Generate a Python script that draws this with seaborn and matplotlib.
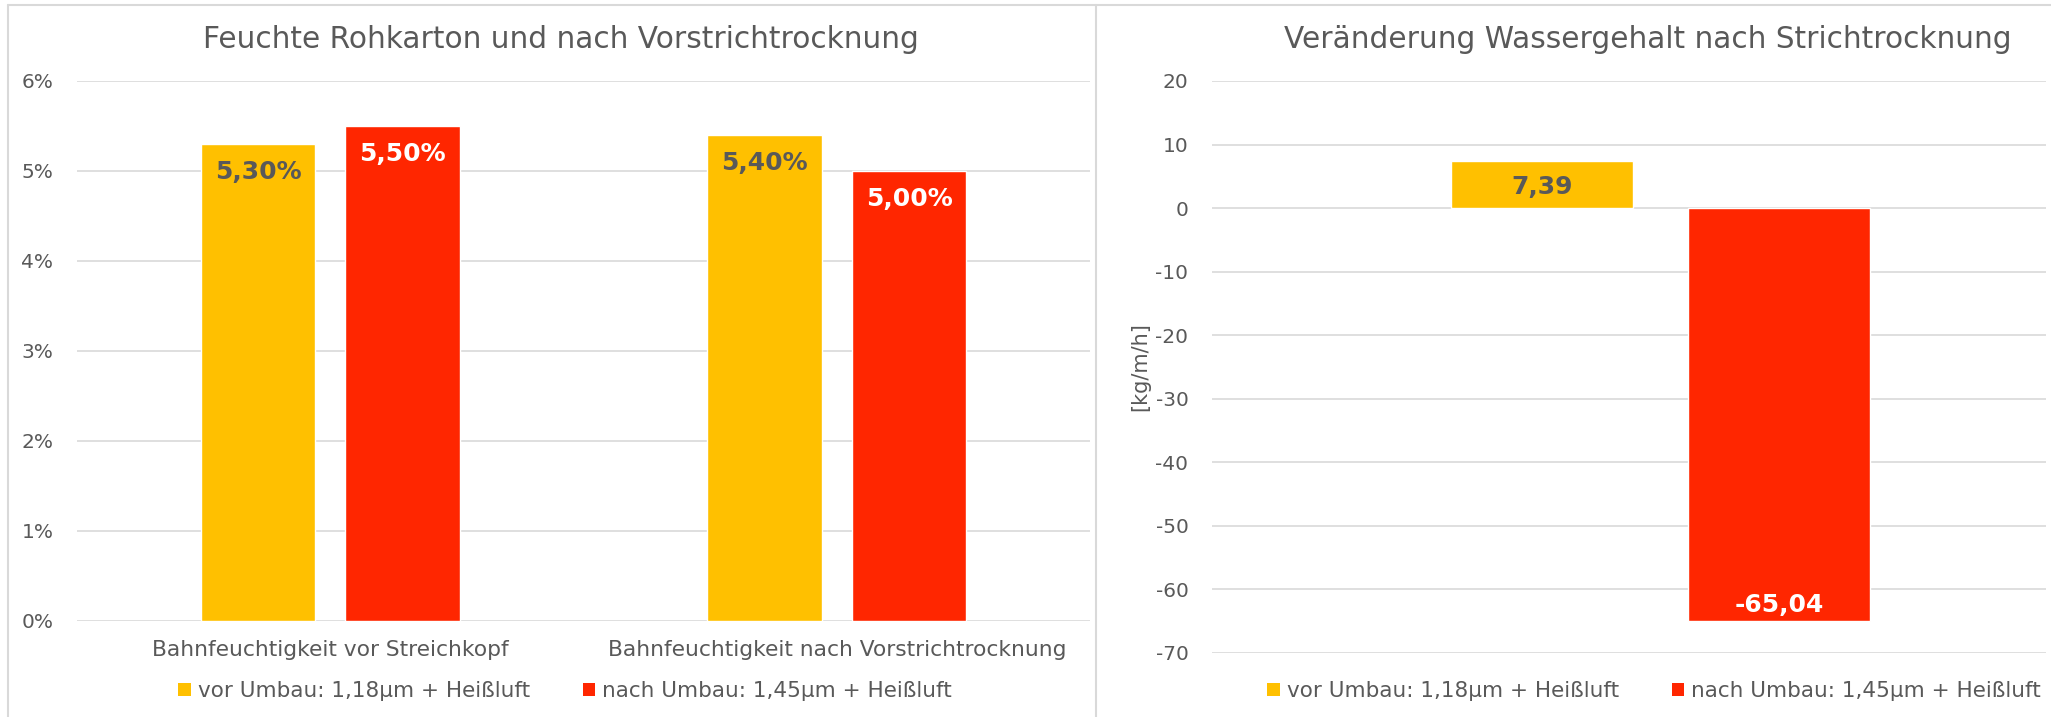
import matplotlib
matplotlib.use("Agg")
import matplotlib.pyplot as plt
import seaborn as sns
import pandas as pd
from matplotlib.lines import Line2D
from matplotlib.patches import Patch

# ---- data ----
series = ["vor Umbau: 1,18µm + Heißluft", "nach Umbau: 1,45µm + Heißluft"]
left_categories = ["Bahnfeuchtigkeit vor Streichkopf", "Bahnfeuchtigkeit nach Vorstrichtrocknung"]
left_vor = [5.30, 5.40]
left_nach = [5.50, 5.00]
right_categories = [""]
right_vor = [7.39]
right_nach = [-65.04]
left_title = "Feuchte Rohkarton und nach Vorstrichtrocknung"
right_title = "Veränderung Wassergehalt nach Strichtrocknung"
right_ylabel = "[kg/m/h]"
left_yticks = [0, 1, 2, 3, 4, 5, 6]
right_yticks = [20, 10, 0, -10, -20, -30, -40, -50, -60, -70]

colors = ["#FFC000", "#FF2600"]
text_grey = "#595959"
label_colors = ["#595959", "white"]

sns.set_theme(style="white")
plt.rcParams["font.family"] = ["DejaVu Sans"]
plt.rcParams["axes.unicode_minus"] = False

W, H = 2051, 717
fig = plt.figure(figsize=(W / 100, H / 100), dpi=100)

def ax_rect(x0, x1, ytop, ybot):
    return [x0 / W, 1 - ybot / H, (x1 - x0) / W, (ybot - ytop) / H]

ax1 = fig.add_axes(ax_rect(77, 1090, 81, 621))
ax2 = fig.add_axes(ax_rect(1212, 2046, 81, 653))

df1 = pd.DataFrame({
    "cat": left_categories * 2,
    "val": left_vor + left_nach,
    "ser": [series[0]] * len(left_categories) + [series[1]] * len(left_categories),
})
df2 = pd.DataFrame({
    "cat": right_categories * 2,
    "val": right_vor + right_nach,
    "ser": [series[0]] * len(right_categories) + [series[1]] * len(right_categories),
})

sns.barplot(data=df1, x="cat", y="val", hue="ser", palette=colors, width=0.571,
            gap=0.21, ax=ax1, legend=False, saturation=1, errorbar=None)
sns.barplot(data=df2, x="cat", y="val", hue="ser", palette=colors, width=0.568,
            gap=0.23, ax=ax2, legend=False, saturation=1, errorbar=None)

def style(ax):
    for s in ax.spines.values():
        s.set_visible(False)
    ax.grid(axis="y", color="#DCDCDC", linewidth=1.3)
    ax.set_axisbelow(True)
    ax.tick_params(axis="both", length=0, colors=text_grey, labelsize=14.5)
    ax.set_xlabel("")
    ax.set_ylabel("")

style(ax1)
style(ax2)

ax1.set_ylim(0, 6)
ax1.set_yticks(left_yticks)
ax1.set_yticklabels([f"{t}%" for t in left_yticks])
ax1.tick_params(axis="y", pad=17)
ax1.tick_params(axis="x", pad=14, labelsize=15.7)
ax1.set_xlim(-0.5, 1.5)

ax2.set_ylim(-70, 20)
ax2.set_yticks(right_yticks)
ax2.set_yticklabels([str(t) for t in right_yticks])
ax2.tick_params(axis="y", pad=17)
ax2.set_xlim(-0.538, 0.462)
ax2.set_ylabel(right_ylabel, color=text_grey, fontsize=15, labelpad=4)

fig.text(561 / W, 1 - 39 / H, left_title, ha="center", va="center", fontsize=21.3, color=text_grey)
fig.text(1648 / W, 1 - 39 / H, right_title, ha="center", va="center", fontsize=21.3, color=text_grey)

def fmt(v, pct):
    s = f"{v:.2f}".replace(".", ",")
    return s + "%" if pct else s

def label_bars(ax, pct, off_pos, off_neg):
    for ci, cont in enumerate(ax.containers):
        for p in cont.patches:
            v = p.get_height()
            x = p.get_x() + p.get_width() / 2
            off = -off_pos if v >= 0 else off_neg
            ax.annotate(fmt(v, pct), (x, v), xytext=(0, off), textcoords="offset pixels",
                        ha="center", va="center", fontsize=18, fontweight="bold",
                        color=label_colors[ci])

label_bars(ax1, True, 28, 16)
label_bars(ax2, False, 26, 16)

handles = [Patch(facecolor=c, edgecolor="none") for c in colors]
for cx in (565 / W, 1654 / W):
    fig.legend(handles, series, loc="center", bbox_to_anchor=(cx, 1 - 691 / H), ncol=2,
               frameon=False, fontsize=15.5, handlelength=0.6, handleheight=0.6,
               handletextpad=0.3, columnspacing=2.45, labelcolor=text_grey)

# panel borders
bc = "#D9D9D9"
fig.add_artist(Line2D([8 / W, 1], [1 - 5 / H, 1 - 5 / H], color=bc, lw=1.5, transform=fig.transFigure))
fig.add_artist(Line2D([8 / W, 8 / W], [0, 1 - 5 / H], color=bc, lw=1.5, transform=fig.transFigure))
fig.add_artist(Line2D([1096 / W, 1096 / W], [0, 1 - 5 / H], color=bc, lw=1.5, transform=fig.transFigure))

fig.savefig("out.png", dpi=100, facecolor="white")
